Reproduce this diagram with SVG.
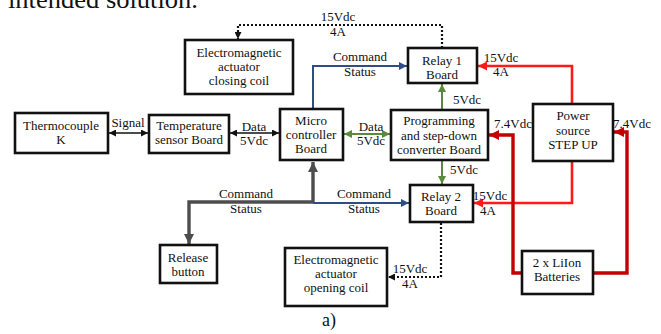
<svg xmlns="http://www.w3.org/2000/svg" width="661" height="334" viewBox="0 0 661 334">
<style>
text{font-family:"Liberation Serif","Times New Roman",serif;font-size:13px;fill:#111;text-anchor:middle}
.box{fill:#fff;stroke:#111;stroke-width:2.6}
.c{fill:none}
.blk{stroke:#111;stroke-width:1.4}
.dot{stroke:#111;stroke-width:2.2;stroke-dasharray:2 2}
.blue{stroke:#2f4d85;stroke-width:2}
.green{stroke:#5a8a3c;stroke-width:2}
.gray{stroke:#4d4d4d;stroke-width:3.4}
.red{stroke:#ff1a1a;stroke-width:2.6}
.dred{stroke:#c40000;stroke-width:3.4}
</style>
<defs>
<marker id="aBlk" viewBox="0 0 8 8" refX="8" refY="4" markerWidth="7" markerHeight="7" markerUnits="userSpaceOnUse" orient="auto-start-reverse"><path d="M0,0 L8,4 L0,8 z" fill="#111"/></marker>
<marker id="aBlue" viewBox="0 0 8 8" refX="8" refY="4" markerWidth="8" markerHeight="8" markerUnits="userSpaceOnUse" orient="auto-start-reverse"><path d="M0,0 L8,4 L0,8 z" fill="#2f4d85"/></marker>
<marker id="aGreen" viewBox="0 0 8 8" refX="8" refY="4" markerWidth="8" markerHeight="8" markerUnits="userSpaceOnUse" orient="auto-start-reverse"><path d="M0,0 L8,4 L0,8 z" fill="#5a8a3c"/></marker>
<marker id="aGray" viewBox="0 0 8 8" refX="8" refY="4" markerWidth="10" markerHeight="10" markerUnits="userSpaceOnUse" orient="auto-start-reverse"><path d="M0,0 L8,4 L0,8 z" fill="#4d4d4d"/></marker>
<marker id="aRed" viewBox="0 0 8 8" refX="8" refY="4" markerWidth="9" markerHeight="9" markerUnits="userSpaceOnUse" orient="auto-start-reverse"><path d="M0,0 L8,4 L0,8 z" fill="#ff1a1a"/></marker>
<marker id="aDred" viewBox="0 0 8 8" refX="8" refY="4" markerWidth="10" markerHeight="10" markerUnits="userSpaceOnUse" orient="auto-start-reverse"><path d="M0,0 L8,4 L0,8 z" fill="#c40000"/></marker>
</defs>
<rect width="661" height="334" fill="#fff"/>
<text x="8" y="8" style="font-size:25px;text-anchor:start" textLength="190" lengthAdjust="spacingAndGlyphs">intended solution.</text>

<g id="connectors">
<path class="c dot" d="M442,48 V25 H238 V39" marker-end="url(#aBlk)"/>
<path class="c blue" d="M313,108 V66 H407" marker-end="url(#aBlue)"/>
<path class="c blk" d="M109,133 H148" marker-start="url(#aBlk)" marker-end="url(#aBlk)"/>
<path class="c blk" d="M230,133 H279" marker-start="url(#aBlk)" marker-end="url(#aBlk)"/>
<path class="c green" d="M344,134 H390" marker-start="url(#aGreen)" marker-end="url(#aGreen)"/>
<path class="c green" d="M442,110 V84" marker-end="url(#aGreen)"/>
<path class="c green" d="M442,160 V184" marker-end="url(#aGreen)"/>
<path class="c gray" d="M313,202 V162" marker-end="url(#aGray)"/>
<path class="c gray" d="M313,202 H189 V244" marker-end="url(#aGray)"/>
<path class="c blue" d="M313,203 H409" marker-end="url(#aBlue)"/>
<path class="c dot" d="M441,223 V277 H388" marker-end="url(#aBlk)"/>
<path class="c red" d="M572,104 V66 H478" marker-end="url(#aRed)"/>
<path class="c red" d="M572,161 V203 H474" marker-end="url(#aRed)"/>
<path class="c dred" d="M522,273 H513 V135 H489" marker-end="url(#aDred)"/>
<path class="c dred" d="M593,273 H627 V132 H614" marker-end="url(#aDred)"/>
<text x="338" y="21">15Vdc</text><text x="338" y="36">4A</text>
<text x="360" y="61">Command</text><text x="360" y="76">Status</text>
<text x="128" y="127">Signal</text>
<text x="254" y="131">Data</text><text x="254" y="145">5Vdc</text>
<text x="371" y="131">Data</text><text x="371" y="145">5Vdc</text>
<text x="467" y="104">5Vdc</text>
<text x="464" y="174">5Vdc</text>
<text x="501" y="62">15Vdc</text><text x="501" y="76">4A</text>
<text x="513" y="128">7.4Vdc</text>
<text x="632" y="128">7.4Vdc</text>
<text x="246" y="198">Command</text><text x="246" y="213">Status</text>
<text x="364" y="198">Command</text><text x="364" y="213">Status</text>
<text x="490" y="200">15Vdc</text><text x="488" y="215">4A</text>
<text x="410" y="273">15Vdc</text><text x="410" y="288">4A</text>
</g>

<g id="closing-coil"><rect class="box" x="185" y="40" width="108" height="54"/><text x="239" y="57">Electromagnetic</text><text x="239" y="71">actuator</text><text x="239" y="85">closing coil</text></g>
<g id="relay1"><rect class="box" x="408" y="48" width="69" height="35"/><text x="442" y="65">Relay 1</text><text x="442" y="79">Board</text></g>
<g id="thermocouple"><rect class="box" x="15" y="113" width="93" height="40"/><text x="61" y="130">Thermocouple</text><text x="61" y="144">K</text></g>
<g id="temp-sensor"><rect class="box" x="149" y="115" width="80" height="38"/><text x="189" y="130">Temperature</text><text x="189" y="144">sensor Board</text></g>
<g id="micro"><rect class="box" x="280" y="109" width="63" height="51"/><text x="311" y="125">Micro</text><text x="311" y="139">controller</text><text x="311" y="153">Board</text></g>
<g id="programming"><rect class="box" x="391" y="110" width="97" height="50"/><text x="439" y="125">Programming</text><text x="439" y="139.5">and step-down</text><text x="439" y="154">converter Board</text></g>
<g id="power-source"><rect class="box" x="533" y="104" width="80" height="57"/><text x="573" y="120">Power</text><text x="573" y="135">source</text><text x="573" y="149">STEP UP</text></g>
<g id="relay2"><rect class="box" x="410" y="185" width="63" height="37"/><text x="441" y="201">Relay 2</text><text x="441" y="215">Board</text></g>
<g id="release"><rect class="box" x="160" y="245" width="57" height="38"/><text x="188" y="262">Release</text><text x="188" y="276">button</text></g>
<g id="opening-coil"><rect class="box" x="285" y="248" width="102" height="58"/><text x="336" y="264">Electromagnetic</text><text x="336" y="278">actuator</text><text x="336" y="292">opening coil</text></g>
<g id="batteries"><rect class="box" x="522" y="251" width="71" height="43"/><text x="557" y="267">2 x LiIon</text><text x="557" y="281">Batteries</text></g>
<text x="329" y="326" style="font-size:18px">a)</text>
</svg>
